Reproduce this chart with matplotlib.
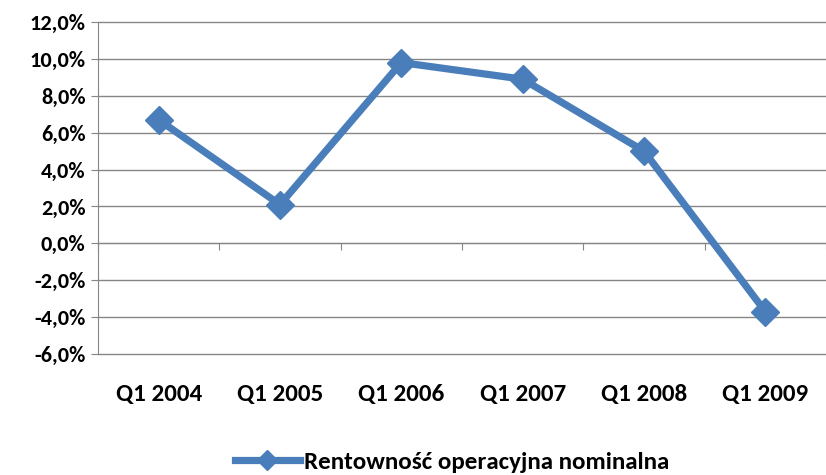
import matplotlib.pyplot as plt
from matplotlib.ticker import FuncFormatter
import matplotlib.transforms as mtransforms

kwartaly = ['Q1 2004', 'Q1 2005', 'Q1 2006', 'Q1 2007', 'Q1 2008', 'Q1 2009']
rentownosc = [6.7, 2.1, 9.8, 8.9, 5.0, -3.7]  # %
seria = 'Rentowność operacyjna nominalna'

# Carlito ma metryki Calibri
plt.rcParams['font.family'] = ['Carlito', 'Open Sans Condensed', 'DejaVu Sans']
niebieski = '#4A7EBB'
szary = '#868686'

fig = plt.figure(figsize=(8.26, 4.75), dpi=100)
ax = fig.add_axes([0.1186, 0.2547, 0.8814, 0.699])

x = list(range(len(kwartaly)))
ax.plot(x, rentownosc, color=niebieski, lw=5.2, marker='D', ms=14,
        mec=niebieski, mfc=niebieski, label=seria, zorder=3)

ax.set_ylim(-6, 12)
ax.set_xlim(-0.5, 5.47)
ax.set_yticks(range(-6, 13, 2))
ax.yaxis.set_major_formatter(FuncFormatter(lambda v, p: f'{v:.1f}%'.replace('.', ',')))
ax.grid(axis='y', color=szary, lw=1)
ax.set_axisbelow(True)
for g in ax.get_ygridlines():
    g.set_clip_on(False)

for s in ['top', 'right']:
    ax.spines[s].set_visible(False)
ax.spines['left'].set_color(szary)
ax.spines['bottom'].set_color(szary)
ax.spines['bottom'].set_position(('data', 0))

ax.set_xticks([i - 0.5 for i in range(len(kwartaly) + 1)])
ax.set_xticklabels([])
ax.tick_params(axis='x', direction='out', length=5, color=szary)
ax.tick_params(axis='y', direction='out', length=5, color=szary,
               labelsize=16, pad=4)
for t in ax.get_yticklabels():
    t.set_fontweight('bold')

trans = mtransforms.blended_transform_factory(ax.transData, ax.transAxes)
for i, k in enumerate(kwartaly):
    ax.text(i, -0.123, k, transform=trans, ha='center', va='center',
            fontsize=18, fontweight='bold')

fig.legend(loc='center', bbox_to_anchor=(0.547, 0.027), frameon=False,
           prop={'size': 18, 'weight': 'bold'}, handlelength=2.6,
           handletextpad=0.15, markerscale=0.75)

fig.savefig('out.png', dpi=100)
